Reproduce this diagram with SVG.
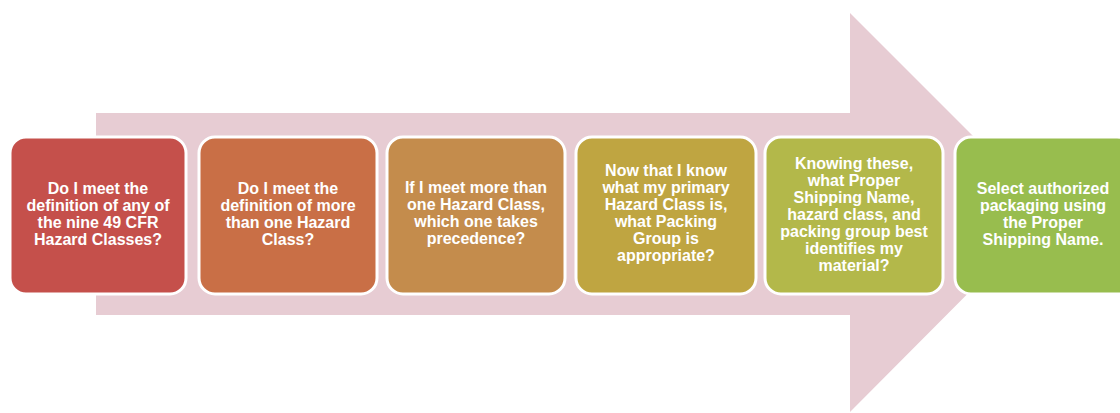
<svg xmlns="http://www.w3.org/2000/svg" width="1120" height="413" viewBox="0 0 1120 413">
<style>
.box{stroke:#ffffff;stroke-width:3}
.t{font-family:"Liberation Sans",Arial,sans-serif;font-weight:bold;font-size:16px;fill:#ffffff;text-anchor:middle}
</style>
<rect width="1120" height="413" fill="#ffffff"/>
<g id="arrow">
<polygon points="96,113 850,113 850,13 1049,212 850,412 850,315 96,315" fill="#e7ccd3"/>
</g>
<g id="connectors"></g>
<g id="n1">
<rect class="box" x="10" y="137" width="176" height="157" rx="16" fill="#c5504b"/>
<text class="t"><tspan x="98" y="194">Do I meet the</tspan><tspan x="98" y="211">definition of any of</tspan><tspan x="98" y="228">the nine 49 CFR</tspan><tspan x="98" y="245">Hazard Classes?</tspan></text>
</g>
<g id="n2">
<rect class="box" x="199" y="137" width="178" height="157" rx="16" fill="#c96f46"/>
<text class="t"><tspan x="288" y="194">Do I meet the</tspan><tspan x="288" y="211">definition of more</tspan><tspan x="288" y="228">than one Hazard</tspan><tspan x="288" y="245">Class?</tspan></text>
</g>
<g id="n3">
<rect class="box" x="387" y="137" width="178" height="157" rx="16" fill="#c48c4c"/>
<text class="t"><tspan x="476" y="193">If I meet  more than</tspan><tspan x="476" y="210">one Hazard Class,</tspan><tspan x="476" y="227">which one takes</tspan><tspan x="476" y="244">precedence?</tspan></text>
</g>
<g id="n4">
<rect class="box" x="576" y="137" width="180" height="157" rx="16" fill="#bfa541"/>
<text class="t"><tspan x="666" y="176">Now that I know</tspan><tspan x="666" y="193">what my primary</tspan><tspan x="666" y="210">Hazard Class is,</tspan><tspan x="666" y="227">what Packing</tspan><tspan x="666" y="244">Group is</tspan><tspan x="666" y="261">appropriate?</tspan></text>
</g>
<g id="n5">
<rect class="box" x="765" y="137" width="178" height="157" rx="16" fill="#b3b84a"/>
<text class="t"><tspan x="854" y="169">Knowing these,</tspan><tspan x="854" y="186">what Proper</tspan><tspan x="854" y="203">Shipping Name,</tspan><tspan x="854" y="220">hazard class, and</tspan><tspan x="854" y="237">packing group best</tspan><tspan x="854" y="254">identifies my</tspan><tspan x="854" y="271">material?</tspan></text>
</g>
<g id="n6">
<rect class="box" x="955" y="137" width="178" height="157" rx="16" fill="#98bd4e"/>
<text class="t"><tspan x="1043" y="194">Select authorized</tspan><tspan x="1043" y="211">packaging using</tspan><tspan x="1043" y="228">the Proper</tspan><tspan x="1043" y="245">Shipping Name.</tspan></text>
</g>
</svg>
